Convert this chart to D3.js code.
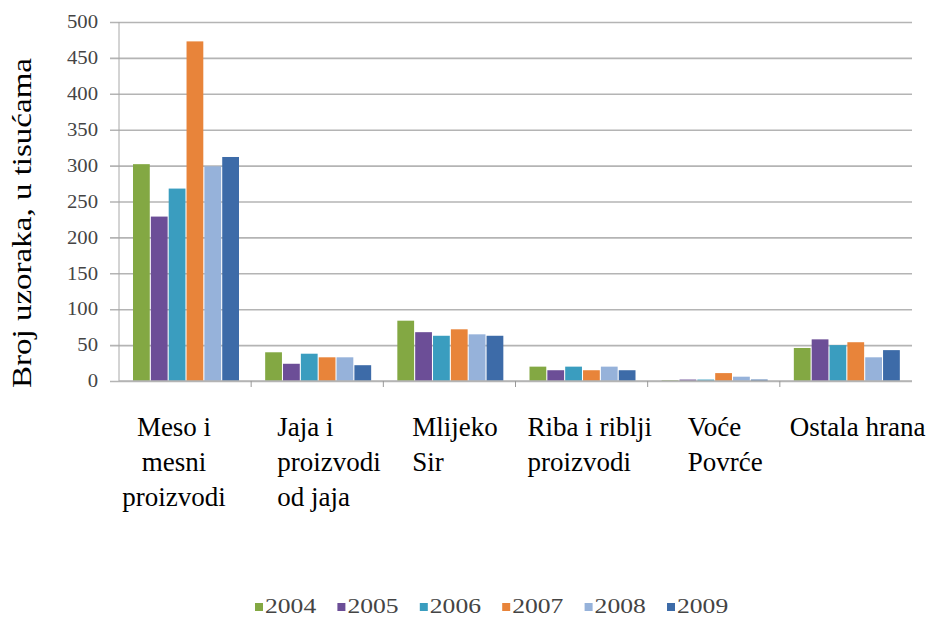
<!DOCTYPE html>
<html>
<head>
<meta charset="utf-8">
<script src="https://cdn.jsdelivr.net/npm/d3@7"></script>
<style>
  body { margin: 0; background: #fff; }
</style>
</head>
<body>
<svg id="chart"></svg>
<script>
const width = 944;
const height = 618;
const serif = "Liberation Serif";

// data (values in thousands)
const categories = [
  ["Meso i", "mesni", "proizvodi"],
  ["Jaja i", "proizvodi", "od jaja"],
  ["Mlijeko", "Sir"],
  ["Riba i riblji", "proizvodi"],
  ["Voće", "Povrće"],
  ["Ostala hrana"],
];
const years = ["2004", "2005", "2006", "2007", "2008", "2009"];
const v2004 = [302, 40, 84, 20, 1, 46];
const v2005 = [229, 24, 68, 15, 2, 58];
const v2006 = [268, 38, 63, 20, 2, 50];
const v2007 = [473, 33, 72, 15, 11, 54];
const v2008 = [299, 33, 65, 20, 6, 33];
const v2009 = [312, 22, 63, 15, 2, 43];
const yTicks = [0, 50, 100, 150, 200, 250, 300, 350, 400, 450, 500];

const series = [v2004, v2005, v2006, v2007, v2008, v2009];
const colors = ["#83a843", "#6c4e97", "#3a9dbf", "#e8843a", "#96b2da", "#3d6ba8"];

// label placement (the original labels are not all centred)
const labelDx = [55, 26, 29, 12, 40, 10];
const labelAnchor = ["middle", "start", "start", "start", "start", "start"];

const margin = { top: 22, right: 32, bottom: 237, left: 119 };
const plotW = width - margin.left - margin.right;
const plotH = height - margin.top - margin.bottom;

const svg = d3.select("#chart").attr("width", width).attr("height", height);
const g = svg.append("g").attr("transform", `translate(${margin.left},${margin.top})`);

const x0 = d3.scaleBand().domain(d3.range(categories.length)).range([0, plotW]);
const x1 = d3.scaleBand().domain(years).range([14, 120]).paddingInner(0.06);
const y = d3.scaleLinear().domain([0, 500]).range([plotH, 0]);

// gridlines + y ticks
const yAxis = g.append("g")
  .call(d3.axisLeft(y).tickValues(yTicks).tickSize(-plotW - 9).tickPadding(12).tickFormat(d3.format("d")));
yAxis.attr("font-family", null);
yAxis.select(".domain").remove();
yAxis.selectAll(".tick line")
  .attr("x1", -9)
  .attr("x2", plotW)
  .attr("stroke", "#b4b4b4")
  .attr("stroke-width", 1.6);
// source digits are drawn wider than the font, so stretch them a little
yAxis.selectAll(".tick text")
  .attr("x", 0)
  .attr("transform", "translate(-21,0) scale(1.15,1)")
  .attr("fill", "#444")
  .style("font-family", serif)
  .style("font-size", "18px");

// y axis line
g.append("line")
  .attr("x1", 0).attr("x2", 0)
  .attr("y1", 0).attr("y2", plotH)
  .attr("stroke", "#a8a8a8");

// bars
const groups = g.selectAll(".group")
  .data(categories)
  .join("g")
  .attr("class", "group")
  .attr("transform", (d, i) => `translate(${x0(i)},0)`);

groups.selectAll("rect")
  .data((d, i) => years.map((yr, j) => ({ yr, value: series[j][i], color: colors[j] })))
  .join("rect")
  .attr("x", (d) => x1(d.yr))
  .attr("y", (d) => y(d.value))
  .attr("width", x1.bandwidth())
  .attr("height", (d) => plotH - y(d.value))
  .attr("fill", (d) => d.color);

// x axis line and ticks at band edges
g.append("line")
  .attr("x1", 0).attr("x2", plotW)
  .attr("y1", plotH).attr("y2", plotH)
  .attr("stroke", "#b4b4b4")
  .attr("stroke-width", 1.6);
g.selectAll(".xtick")
  .data(d3.range(1, categories.length))
  .join("line")
  .attr("class", "xtick")
  .attr("x1", (i) => x0(i)).attr("x2", (i) => x0(i))
  .attr("y1", plotH).attr("y2", plotH + 6)
  .attr("stroke", "#999");

// category labels
categories.forEach((lines, i) => {
  const t = svg.append("text")
    .attr("x", margin.left + x0(i) + labelDx[i])
    .attr("y", 436)
    .attr("text-anchor", labelAnchor[i])
    .attr("fill", "#000")
    .style("font-family", serif)
    .style("font-size", "27px");
  lines.forEach((line, k) => {
    t.append("tspan")
      .attr("x", margin.left + x0(i) + labelDx[i])
      .attr("dy", k === 0 ? 0 : 35)
      .text(line);
  });
});

// y axis title
svg.append("text")
  .attr("transform", "translate(31,223) rotate(-90)")
  .attr("text-anchor", "middle")
  .attr("fill", "#000")
  .style("font-family", serif)
  .style("font-size", "27px")
  .attr("textLength", 330)
  .attr("lengthAdjust", "spacingAndGlyphs")
  .text("Broj uzoraka, u tisućama");

// legend
const legend = svg.append("g").attr("transform", "translate(255,603)");
const item = legend.selectAll("g")
  .data(years)
  .join("g")
  .attr("transform", (d, i) => `translate(${i * 82.4},0)`);
item.append("rect")
  .attr("width", 8).attr("height", 8)
  .attr("fill", (d, i) => colors[i]);
item.append("text")
  .attr("transform", "translate(10,10) scale(1.28,1)")
  .attr("fill", "#444")
  .style("font-family", serif)
  .style("font-size", "20px")
  .text((d) => d);
</script>
</body>
</html>
